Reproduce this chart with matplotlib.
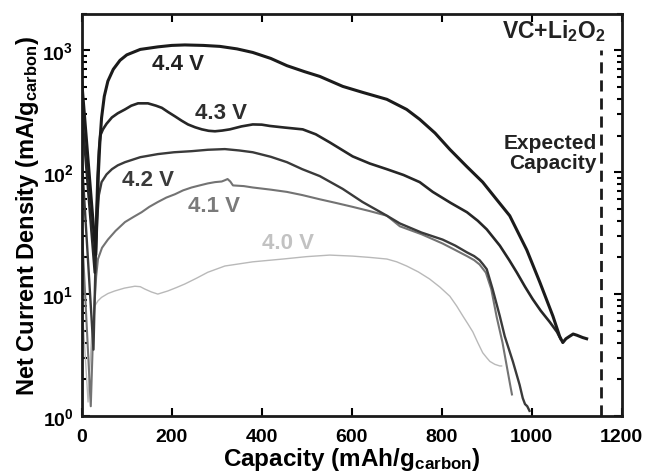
import matplotlib
matplotlib.use("Agg")
import matplotlib.pyplot as plt
from matplotlib.ticker import LogLocator, NullFormatter

plt.rcParams['font.family'] = ['Liberation Sans', 'DejaVu Sans']
plt.rcParams['font.weight'] = 'bold'
plt.rcParams['mathtext.fontset'] = 'custom'
plt.rcParams['mathtext.rm'] = 'Liberation Sans:bold'
plt.rcParams['mathtext.bf'] = 'Liberation Sans:bold'
plt.rcParams['mathtext.it'] = 'Liberation Sans:bold'
plt.rcParams['mathtext.default'] = 'rm'

# ---- data ----
x44 = [0, 31, 34, 37, 40, 44, 50, 58, 70, 85, 100, 130, 169, 200, 229, 270, 307, 345, 380,
       420, 456, 495, 529, 580, 624, 678, 722, 751, 785, 818, 855, 891, 920, 951, 989,
       1018, 1047, 1062, 1069, 1076, 1084, 1092, 1100, 1113, 1122]
y44 = [550, 21, 45, 100, 170, 280, 420, 560, 700, 830, 920, 1020, 1070, 1100, 1110, 1100,
       1080, 1030, 963, 860, 750, 670, 612, 507, 453, 397, 328, 272, 210, 154, 112, 83, 61,
       44, 23, 12.5, 6.6, 4.5, 4.0, 4.3, 4.5, 4.7, 4.6, 4.4, 4.3]

x43 = [0, 29, 32, 35, 38, 41, 47, 55, 67, 80, 96, 110, 125, 147, 165, 178, 192, 207, 222,
       236, 252, 267, 282, 296, 312, 329, 355, 380, 400, 418, 450, 491, 520, 551, 602, 640,
       678, 715, 751, 780, 820, 856, 880, 900, 929, 950, 967, 985, 1002, 1020, 1040, 1056,
       1064]
y43 = [320, 15, 40, 90, 150, 200, 225, 250, 282, 305, 328, 352, 368, 368, 352, 338, 312,
       288, 265, 247, 234, 225, 219, 217, 220, 225, 238, 247, 246, 240, 233, 225, 205, 176,
       135, 118, 106, 95, 83, 69, 56, 47, 40, 34, 25, 19, 15, 11.5, 9.1, 7.3, 5.9, 4.9, 4.3]

x42 = [0, 26, 30, 34, 38, 44, 55, 67, 80, 96, 130, 169, 205, 244, 280, 318, 350, 380, 420,
       456, 490, 529, 580, 624, 678, 707, 755, 802, 830, 856, 872, 884, 892, 900, 913, 929,
       940, 958, 973, 980, 985, 990, 995]
y42 = [130, 3.5, 15, 40, 65, 83, 96, 106, 114, 121, 133, 141, 146, 149, 153, 155, 151, 146,
       134, 121, 106, 93, 73, 57, 44, 38, 32, 28, 25, 22, 20.5, 19, 17.5, 16, 11, 6.6,
       4.5, 2.8, 1.8, 1.4, 1.25, 1.2, 1.1]

x41 = [0, 20, 24, 28, 32, 36, 45, 58, 75, 96, 115, 133, 150, 169, 188, 207, 225, 244, 262,
       280, 296, 311, 318, 324, 330, 336, 360, 380, 420, 456, 490, 529, 565, 602, 640, 678,
       707, 755, 802, 830, 856, 872, 884, 898, 910, 922, 935, 945, 952, 956]
y41 = [35, 1.2, 3.5, 8, 14, 19.4, 24, 28, 33, 39, 43, 47, 52, 57, 62, 66, 71, 75, 78,
       81, 83, 84, 86, 88, 84, 78, 77, 75, 72, 69, 65, 60, 56, 52, 48, 44,
       36, 31, 26, 23, 20.5, 19, 17.5, 15, 11, 6.5, 4, 2.5, 1.8, 1.5]

x40 = [0, 14, 18, 22, 26, 29, 36, 44, 58, 73, 95, 118, 130, 140, 155, 169, 180, 191, 210,
       229, 255, 280, 318, 380, 447, 500, 551, 602, 640, 678, 700, 722, 748, 773, 796, 818,
       833, 847, 858, 869, 880, 891, 900, 907, 918, 929, 933]
y40 = [9, 1.3, 2.5, 4.5, 6.5, 8.0, 8.8, 9.4, 10.1, 10.6, 11.2, 11.6, 11.5, 11, 10.4, 10,
       10.3, 10.6, 11.3, 12.1, 13.5, 15.1, 17, 18.4, 19.4, 20.3, 20.9, 20.5, 20, 19.4, 18.4,
       17, 15.2, 13.3, 11.4, 9.6, 8, 6.6, 5.7, 4.9, 4.0, 3.3, 3.0, 2.8, 2.65, 2.57, 2.57]

expected_capacity = 1155
xticks = [0, 200, 400, 600, 800, 1000, 1200]

series = [
    (x40, y40, '#b9b9b9', 1.0, '4.0 V', 400, 26.7, '#c2c2c2'),
    (x41, y41, '#737373', 1.5, '4.1 V', 236, 53, '#7a7a7a'),
    (x42, y42, '#3a3a3a', 1.7, '4.2 V', 89, 88, '#3a3a3a'),
    (x43, y43, '#262626', 1.9, '4.3 V', 251, 310, '#2e2e2e'),
    (x44, y44, '#1b1b1b', 2.2, '4.4 V', 156, 782, '#222222'),
]

fig = plt.figure(figsize=(6.49, 4.77), dpi=100)
ax = fig.add_axes([0.126, 0.126, 0.832, 0.843])

for xs, ys, c, lw, lab, lx, ly, lc in series:
    ax.plot(xs, ys, color=c, lw=lw, solid_joinstyle='round')
    ax.text(lx, ly, lab, color=lc, fontsize=16, fontweight='bold', ha='left', va='center')

ax.plot([expected_capacity, expected_capacity], [1, 1000], color='#1a1a1a', lw=2,
        dashes=(4, 2.5))

ax.text(1163, 1480, 'VC+Li$_2$O$_2$', fontsize=16.5, ha='right', va='center', color='#222222')
ax.text(1145, 145, 'Expected\nCapacity', fontsize=15, ha='right', va='center',
        color='#222222', linespacing=1.05)

ax.set_yscale('log')
ax.set_xlim(0, 1200)
ax.set_ylim(1, 2000)
ax.set_xticks(xticks)
ax.yaxis.set_major_locator(LogLocator(base=10, numticks=10))
ax.yaxis.set_minor_locator(LogLocator(base=10, subs=range(2, 10), numticks=10))
ax.yaxis.set_minor_formatter(NullFormatter())

ax.tick_params(which='both', direction='in', top=True, right=True, width=1.5)
ax.tick_params(which='major', length=6, labelsize=14, pad=6)
ax.tick_params(axis='x', which='major', pad=9)
ax.tick_params(which='minor', length=3.5)
for lab in ax.get_xticklabels() + ax.get_yticklabels():
    lab.set_fontweight('bold')
for s in ax.spines.values():
    s.set_linewidth(2)
    s.set_color('#1a1a1a')

ax.set_xlabel('Capacity (mAh/g$_{carbon}$)', fontsize=17.5, fontweight='bold', labelpad=0)
ax.set_ylabel('Net Current Density (mA/g$_{carbon}$)', fontsize=17, fontweight='bold', labelpad=1)

fig.savefig('out.png', dpi=100)
